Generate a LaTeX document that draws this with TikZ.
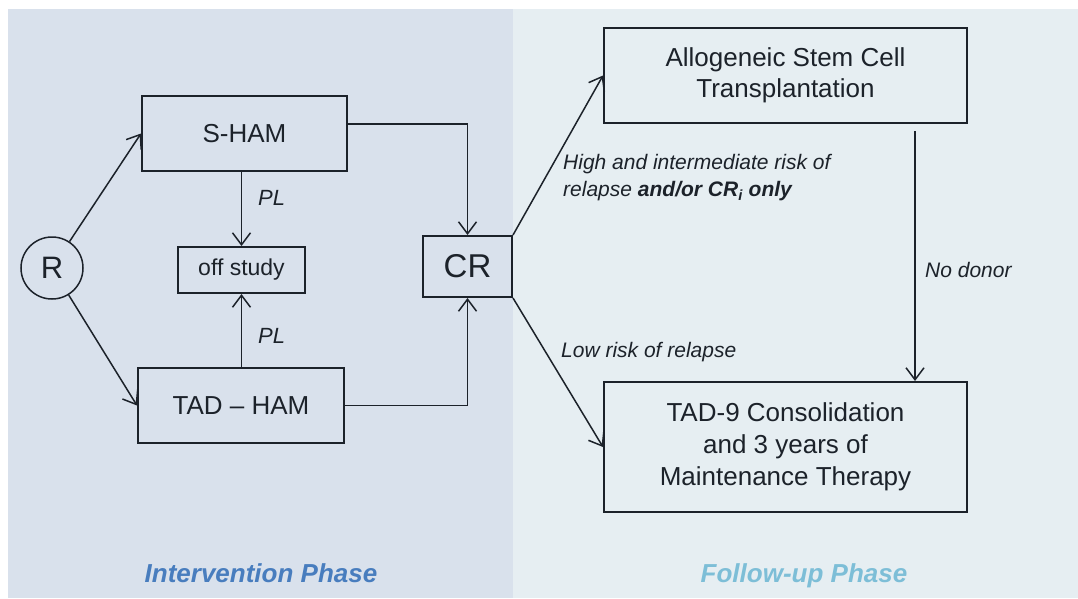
\documentclass[tikz,border=0pt]{standalone}
\usepackage{fontspec}
\setmainfont{Liberation Sans}
\usetikzlibrary{arrows.meta,calc}
\definecolor{leftbg}{RGB}{217,225,236}
\definecolor{rightbg}{RGB}{230,238,242}
\definecolor{ink}{RGB}{28,34,42}
\definecolor{phaseA}{RGB}{72,125,190}
\definecolor{phaseB}{RGB}{125,190,215}
\begin{document}
\begin{tikzpicture}[x=1pt,y=-1pt,
  box/.style={draw=ink, line width=2pt, rectangle, inner sep=0pt, text=ink, align=center},
  arr/.style={draw=ink, line width=1.5pt, -{Straight Barb[length=12pt,width=18pt]}},
  lab/.style={text=ink, font=\fontsize{21}{27}\selectfont\itshape, inner sep=0pt, align=left, anchor=west},
  phase/.style={font=\fontsize{26}{30}\selectfont\bfseries\itshape, inner sep=0pt, anchor=base}
]
\fill[white] (0,0) rectangle (1078,598);
\fill[leftbg] (8,9) rectangle (513,598);
\fill[rightbg] (513,9) rectangle (1078,598);
\useasboundingbox (0,0) rectangle (1078,598);

\node[box, circle, line width=1.5pt, minimum size=62pt, font=\fontsize{31}{31}\selectfont] (R) at (52,268) {R};
\node[box, minimum width=205pt, minimum height=75pt, font=\fontsize{26}{30}\selectfont] (SHAM) at (244.5,133.5) {S-HAM};
\node[box, minimum width=127pt, minimum height=46pt, font=\fontsize{23}{27}\selectfont] (off) at (241.5,270) {off study};
\node[box, minimum width=206pt, minimum height=75pt, font=\fontsize{26}{30}\selectfont] (TAD) at (241,405.5) {TAD -- HAM};
\node[box, minimum width=89pt, minimum height=61pt, font=\fontsize{33}{33}\selectfont] (CR) at (467.5,266.5) {CR};
\node[box, minimum width=363pt, minimum height=95pt, font=\fontsize{26}{31}\selectfont] (Allo) at (785.5,75.5) {Allogeneic Stem Cell\\Transplantation};
\node[box, minimum width=363pt, minimum height=130pt, font=\fontsize{26}{32}\selectfont] (TAD9) at (785.5,447) {TAD-9 Consolidation\\and 3 years of\\Maintenance Therapy};

\draw[arr] (R) -- (SHAM.west);
\draw[arr] (R) -- (TAD.west);
\draw[arr] ([yshift=9.5pt]SHAM.east) -| (CR.north);
\draw[arr] (TAD.east) -| (CR.south);
\draw[arr] (SHAM.south -| off.north) -- (off.north);
\draw[arr] (TAD.north -| off.south) -- (off.south);
\draw[arr] (CR.north east) -- (Allo.west);
\draw[arr] (CR.south east) -- (TAD9.west);
\coordinate (nd) at (915,131);
\draw[arr] (nd) -- (nd |- TAD9.north);

\node[lab, font=\fontsize{22}{26}\selectfont\itshape] (pl1) at (258,198) {PL};
\node[lab, font=\fontsize{22}{26}\selectfont\itshape] (pl2) at (258,336) {PL};
\node[lab] (hi) at (563,178) {High and intermediate risk of\\relapse \textbf{and/or CR\textsubscript{i} only}};
\node[lab] (lo) at (561,352) {Low risk of relapse};
\node[lab] (nodonor) at (925,270) {No donor};

\node[phase, text=phaseA] (ip) at (261,582) {Intervention Phase};
\node[phase, text=phaseB] (fp) at (804,582) {Follow-up Phase};
\end{tikzpicture}
\end{document}
